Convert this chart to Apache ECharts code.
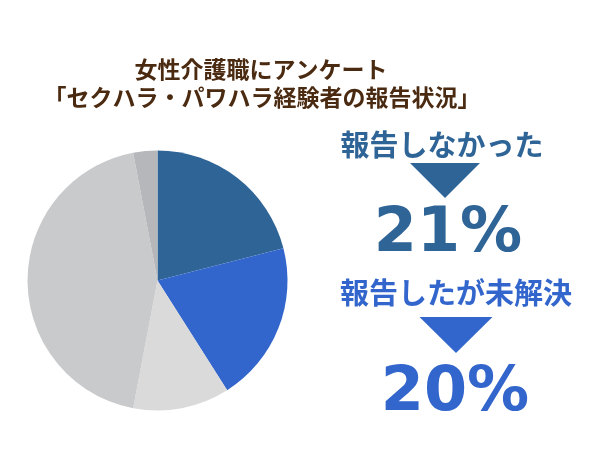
<!DOCTYPE html>
<html>
<head>
<meta charset="utf-8">
<script src="https://cdn.jsdelivr.net/npm/echarts@6/dist/echarts.min.js"></script>
<style>html,body{margin:0;padding:0;background:#fff;}#c{width:600px;height:450px;}</style>
</head>
<body>
<div id="c"></div>
<script>
const titleLines = ['女性介護職にアンケート', '「セクハラ・パワハラ経験者の報告状況」'];
const categories = ['報告しなかった', '報告したが未解決', '報告して解決', '経験なし', 'その他'];
const values = [21, 20, 12, 44, 3];
const colors = ['#2F6497', '#3366CC', '#DADADA', '#C9CACC', '#B6B7BA'];

const FONT = '"Noto Sans CJK JP", "Noto Sans", sans-serif';
const NUMFONT = '"DejaVu Sans", Verdana, sans-serif';
const chart = echarts.init(document.getElementById('c'));

function txt(text, x, y, size, color, fam) {
  return {
    type: 'text', x: x, y: y,
    style: {
      text: text, fill: color,
      font: 'bold ' + size + 'px ' + (fam || FONT),
      align: 'center', verticalAlign: 'middle',
      textAlign: 'center', textVerticalAlign: 'middle'
    }
  };
}
function tri(cx, top, w, h, color) {
  return {
    type: 'polygon',
    shape: { points: [[cx - w / 2, top], [cx + w / 2, top], [cx, top + h]] },
    style: { fill: color }
  };
}

chart.setOption({
  backgroundColor: '#fff',
  animation: false,
  graphic: [
    txt(titleLines[0], 261, 69, 23, '#4A2A10'),
    txt(titleLines[1], 262, 97, 23, '#4A2A10'),
    txt(categories[0], 442, 145, 29, colors[0]),
    tri(445, 163, 70, 35, colors[0]),
    txt(values[0] + '%', 448, 235, 62, colors[0], NUMFONT),
    txt(categories[1], 456, 293, 29, colors[1]),
    tri(456, 317, 73, 36, colors[1]),
    txt(values[1] + '%', 455, 394, 62, colors[1], NUMFONT)
  ],
  series: [{
    type: 'pie',
    center: [157.5, 280.5],
    radius: 130,
    startAngle: 90,
    clockwise: true,
    label: { show: false },
    labelLine: { show: false },
    emphasis: { disabled: true },
    itemStyle: { borderWidth: 0 },
    data: categories.map((n, i) => ({ name: n, value: values[i], itemStyle: { color: colors[i] } }))
  }]
});
</script>
</body>
</html>
